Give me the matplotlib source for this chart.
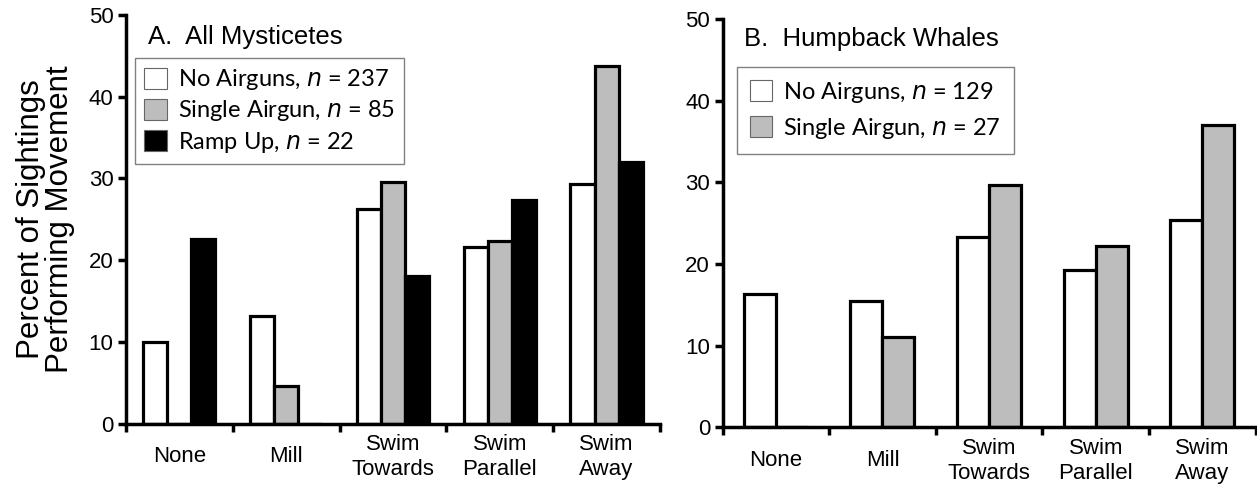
import numpy as np
import matplotlib
matplotlib.use('Agg')
import matplotlib.pyplot as plt
from matplotlib.ticker import FixedLocator, NullFormatter

plt.rcParams['font.family'] = ['Liberation Sans', 'DejaVu Sans']

categories = ['None', 'Mill', 'Swim\nTowards', 'Swim\nParallel', 'Swim\nAway']

# panel A - all mysticetes
a_no_airguns = [10.0, 13.1, 26.3, 21.6, 29.3]
a_single_airgun = [0.0, 4.6, 29.5, 22.4, 43.8]
a_ramp_up = [22.6, 0.0, 18.0, 27.3, 32.0]
a_labels = ['No Airguns, $\\mathit{n}$ = 237', 'Single Airgun, $\\mathit{n}$ = 85', 'Ramp Up, $\\mathit{n}$ = 22']

# panel B - humpback whales
b_no_airguns = [16.3, 15.4, 23.3, 19.3, 25.4]
b_single_airgun = [0.0, 11.1, 29.7, 22.2, 37.0]
b_labels = ['No Airguns, $\\mathit{n}$ = 129', 'Single Airgun, $\\mathit{n}$ = 27']

yticks = [0, 10, 20, 30, 40, 50]

fill_colors = ['white', '#bdbdbd', 'black']

fig = plt.figure(figsize=(12.57, 4.86), dpi=100)
ax1 = fig.add_axes([0.1002, 0.1286, 0.4248, 0.8405])
ax2 = fig.add_axes([0.5748, 0.1208, 0.4242, 0.8405])


def style_axis(ax):
    x = np.arange(len(categories))
    ax.set_xlim(-0.5, len(categories) - 0.5)
    ax.set_ylim(0, 50)
    ax.set_yticks(yticks)
    ax.xaxis.set_major_locator(FixedLocator(np.arange(-0.5, len(categories), 1.0)))
    ax.xaxis.set_major_formatter(NullFormatter())
    ax.xaxis.set_minor_locator(FixedLocator(x))
    ax.set_xticklabels(categories, minor=True)
    ax.tick_params(axis='x', which='major', direction='out', length=6, width=2.5)
    ax.tick_params(axis='x', which='minor', length=0, pad=24, labelsize=16)
    ax.tick_params(axis='y', direction='out', length=6, width=2.5, labelsize=16, pad=3)
    for s in ['top', 'right']:
        ax.spines[s].set_visible(False)
    for s in ['left', 'bottom']:
        ax.spines[s].set_linewidth(2.5)
    for lab in ax.get_xticklabels(minor=True):
        lab.set_linespacing(1.25)
        lab.set_verticalalignment('center')


def draw_bars(ax, series, labels, width, spacing, pad, anchor):
    x = np.arange(len(categories))
    k = len(series)
    handles = []
    for i, vals in enumerate(series):
        off = (i - (k - 1) / 2) * width
        ax.bar(x + off, vals, width, color=fill_colors[i], edgecolor='black', linewidth=2.3, zorder=2)
        h = plt.Rectangle((0, 0), 1, 1, facecolor=fill_colors[i], edgecolor='#666666', linewidth=0.8)
        handles.append(h)
    leg = ax.legend(handles, labels, prop={'family': 'Lato', 'size': 17},
                    loc='upper left', bbox_to_anchor=anchor,
                    handlelength=0.95, handleheight=1.0, handletextpad=0.45,
                    fancybox=False, framealpha=1, borderpad=pad, labelspacing=spacing,
                    borderaxespad=0)
    leg.get_frame().set_edgecolor('#808080')
    leg.get_frame().set_linewidth(1.0)
    leg.set_zorder(5)
    return leg


style_axis(ax1)
draw_bars(ax1, [a_no_airguns, a_single_airgun, a_ramp_up], a_labels, 0.225, 0.26, 0.4, (0.017, 0.895))
ax1.text(0.041, 0.975, 'A.  All Mysticetes', transform=ax1.transAxes, fontsize=18.5, va='top', ha='left')
ax1.set_ylabel('Percent of Sightings\nPerforming Movement', fontsize=22.5, labelpad=10, linespacing=0.95)

style_axis(ax2)
draw_bars(ax2, [b_no_airguns, b_single_airgun], b_labels, 0.3, 0.46, 0.55, (0.027, 0.882))
ax2.text(0.04, 0.98, 'B.  Humpback Whales', transform=ax2.transAxes, fontsize=18.5, va='top', ha='left')

fig.savefig('out.png', dpi=100)
